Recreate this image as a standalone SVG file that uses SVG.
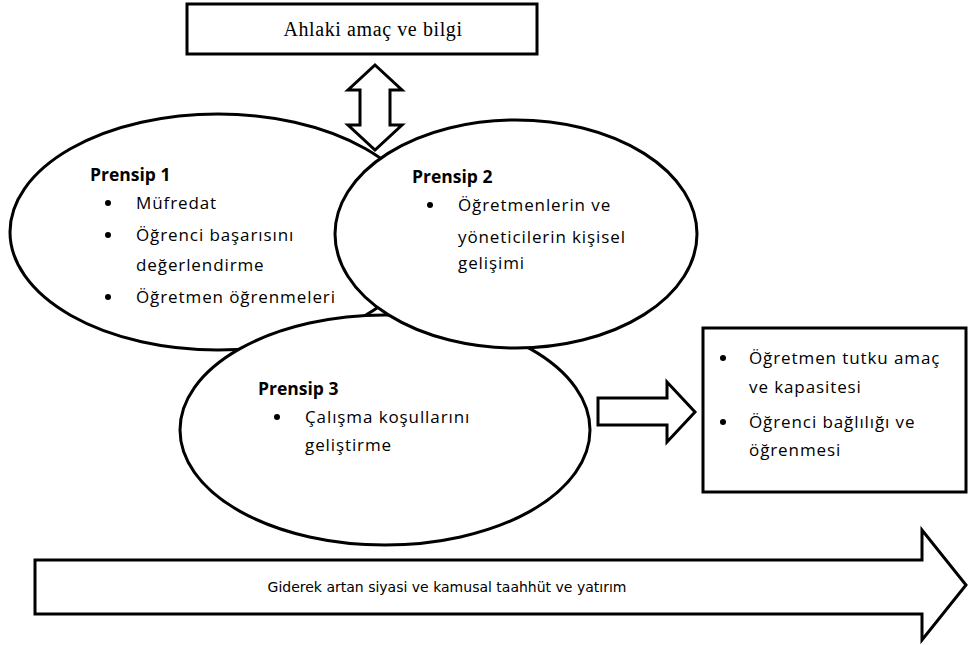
<svg xmlns="http://www.w3.org/2000/svg" width="968" height="645" viewBox="0 0 968 645">
<style>
.shape{fill:#fff;stroke:#000;stroke-width:3}
.body{font-family:"Open Sans","Liberation Sans",sans-serif;font-size:17px;letter-spacing:0.9px;fill:#000}
.head{font-family:"Open Sans","Liberation Sans",sans-serif;font-size:17.5px;font-weight:bold;fill:#000}
.serif{font-family:"Liberation Serif",serif;font-size:20px;letter-spacing:0.6px;fill:#000}
.band{font-family:"DejaVu Sans","Liberation Sans",sans-serif;font-size:14px;fill:#000}
</style>
<rect width="968" height="645" fill="#fff"/>
<g id="top">
<rect class="shape" x="187" y="4" width="350" height="50"/>
<text class="serif" x="373" y="36" text-anchor="middle">Ahlaki amaç ve bilgi</text>
</g>
<g id="connectors">
<polygon class="shape" points="375,65 402,90 390,90 390,125 402,125 375,150 348,125 360,125 360,90 348,90"/>
<polygon class="shape" points="598,398 667,398 667,382 695,412 667,442 667,425 598,425"/>
</g>
<g id="p1">
<ellipse class="shape" cx="218" cy="232" rx="208" ry="118"/>
<text class="head" x="90" y="181">Prensip 1</text>
<circle cx="108" cy="203" r="3"/>
<text class="body" x="136" y="209">Müfredat</text>
<circle cx="108" cy="235" r="3"/>
<text class="body" x="136" y="241">Öğrenci başarısını</text>
<text class="body" x="136" y="271">değerlendirme</text>
<circle cx="108" cy="297" r="3"/>
<text class="body" x="136" y="303">Öğretmen öğrenmeleri</text>
</g>
<g id="p3">
<ellipse class="shape" cx="385" cy="430" rx="205" ry="115"/>
<text class="head" x="258" y="395">Prensip 3</text>
<circle cx="277" cy="417" r="3"/>
<text class="body" x="305" y="423">Çalışma koşullarını</text>
<text class="body" x="305" y="451">geliştirme</text>
</g>
<g id="p2">
<ellipse class="shape" cx="516" cy="234" rx="181" ry="114"/>
<text class="head" x="412" y="183">Prensip 2</text>
<circle cx="430" cy="205" r="3"/>
<text class="body" x="458" y="211">Öğretmenlerin ve</text>
<text class="body" x="458" y="243">yöneticilerin kişisel</text>
<text class="body" x="458" y="269">gelişimi</text>
</g>
<g id="outcome">
<rect class="shape" x="703" y="328" width="263" height="164"/>
<circle cx="723" cy="358" r="3"/>
<text class="body" x="749" y="364">Öğretmen tutku amaç</text>
<text class="body" x="749" y="393">ve kapasitesi</text>
<circle cx="723" cy="422" r="3"/>
<text class="body" x="749" y="428">Öğrenci bağlılığı ve</text>
<text class="body" x="749" y="456">öğrenmesi</text>
</g>
<g id="band">
<polygon class="shape" points="35,560 922,560 922,530 966,585 922,640 922,614 35,614"/>
<text class="band" x="447" y="592" text-anchor="middle">Giderek artan siyasi ve kamusal taahhüt ve yatırım</text>
</g>
</svg>
